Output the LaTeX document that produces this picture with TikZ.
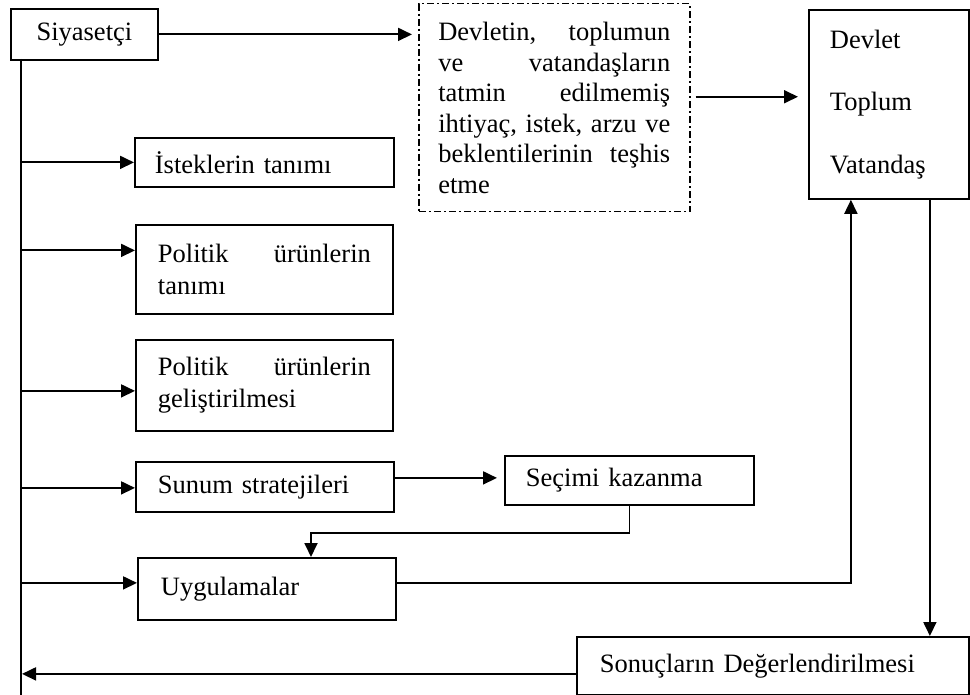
\documentclass[tikz,border=0pt]{standalone}
\usepackage{fontspec}
\setmainfont{Liberation Serif}
\usetikzlibrary{arrows.meta,calc}
\newcommand{\fullline}[2]{\leavevmode\hbox to #1{#2}}
\tikzset{
    box/.style =    {rectangle,
                    fill=white,
                    draw=black,
                    text=black,
                    line width=1.8pt,
                    align=left,
                    anchor=north west,
                    font=\fontsize{26.5}{30.5}\selectfont},
    dashbox/.style = {box,
                    line width=1.5pt,
                    dash pattern=on 7pt off 3pt on 2pt off 3pt},
    arrow/.style =  {->,
                    line width=1.8pt},
    link/.style =   {line width=1.8pt},
    >={Triangle[length=14pt,width=13pt]}}

\begin{document}
\begin{tikzpicture}[x=1pt,y=-1pt]
                \useasboundingbox (0,0) rectangle (970,695);
                \node[box, minimum width=147pt, minimum height=51pt, align=center] (siy) at (10,8) {Siyasetçi};
                \node[dashbox, text width=232pt, inner xsep=19.5pt, minimum height=208pt] (ihtiyac) at (418,3)
                    {\fullline{232pt}{Devletin,\hfill toplumun}\\\fullline{232pt}{ve\hfill vatandaşların}\\
                     \fullline{232pt}{tatmin\hfill edilmemiş}\\\fullline{232pt}{ihtiyaç,\hfill istek,\hfill arzu\hfill ve}\\
                     \fullline{232pt}{beklentilerinin\hfill teşhis}\\etme};
                \node[box, text width=118pt, inner xsep=21pt, minimum height=189pt] (devlet) at (808,9)
                    {Devlet\\[32pt]Toplum\\[32pt]Vatandaş};
                \node[box, text width=219pt, inner xsep=20pt, minimum height=49pt] (istek) at (134,137) {İsteklerin tanımı};
                \node[box, text width=213pt, inner xsep=22pt, minimum height=89pt] (pol1) at (135,224)
                    {\fullline{213pt}{Politik\hfill ürünlerin}\\[1.5pt]tanımı};
                \node[box, text width=213pt, inner xsep=22pt, minimum height=91pt] (pol2) at (135,339)
                    {\fullline{213pt}{Politik\hfill ürünlerin}\\[1.5pt]geliştirilmesi};
                \node[box, text width=214pt, inner xsep=22pt, minimum height=50pt] (sunum) at (135,461) {Sunum stratejileri};
                \node[box, text width=207pt, inner xsep=21pt, minimum height=49pt] (secim) at (504,455) {Seçimi kazanma};
                \node[box, text width=212pt, inner xsep=23pt, minimum height=62pt] (uyg) at (137,557) {Uygulamalar};
                \node[box, text width=346pt, inner xsep=23pt, minimum height=58pt] (sonuc) at (576,636) {Sonuçların Değerlendirilmesi};

                % trunk on the left
                \coordinate (top)    at (21,59);
                \coordinate (bottom) at (21,695);
                \draw[link] (top) -- (bottom);

                % branch points
                \coordinate (in1)  at (istek.west);
                \coordinate (in2)  at ([yshift=19pt]pol1.west);
                \coordinate (in3)  at ([yshift=-5.5pt]pol2.west);
                \coordinate (in4)  at ([yshift=-1pt]sunum.west);
                \coordinate (in5)  at ([yshift=6pt]uyg.west);
                \path [arrow]   (top |- in1) edge (in1)
                                (top |- in2) edge (in2)
                                (top |- in3) edge (in3)
                                (top |- in4) edge (in4)
                                (top |- in5) edge (in5);

                % right side
                \coordinate (out1) at ([yshift=11pt]ihtiyac.east);
                \coordinate (out2) at ([yshift=9pt]sunum.east);
                \coordinate (out3) at ([yshift=6pt]uyg.east);
                \coordinate (bend) at (311,533);
                \coordinate (up)   at ([xshift=-38pt]devlet.south);
                \coordinate (down) at ([xshift=41pt]devlet.south);
                \coordinate (back) at ([yshift=-8pt]sonuc.west);
                \draw[arrow, shorten >=6pt] (siy.east) -- (siy.east -| ihtiyac.west);
                \draw[arrow, shorten <=5pt, shorten >=10pt] (out1) -- (out1 -| devlet.west);
                \draw[arrow, shorten >=7pt] (out2) -- (out2 -| secim.west);
                \draw[arrow] (secim.south) |- (bend) -- (bend |- uyg.north);
                \draw[arrow] (out3) -| (up);
                \draw[arrow] (down) -- (down |- sonuc.north);
                \draw[arrow, shorten >=1pt] (back) -- (back -| top);
        \end{tikzpicture}
\end{document}
